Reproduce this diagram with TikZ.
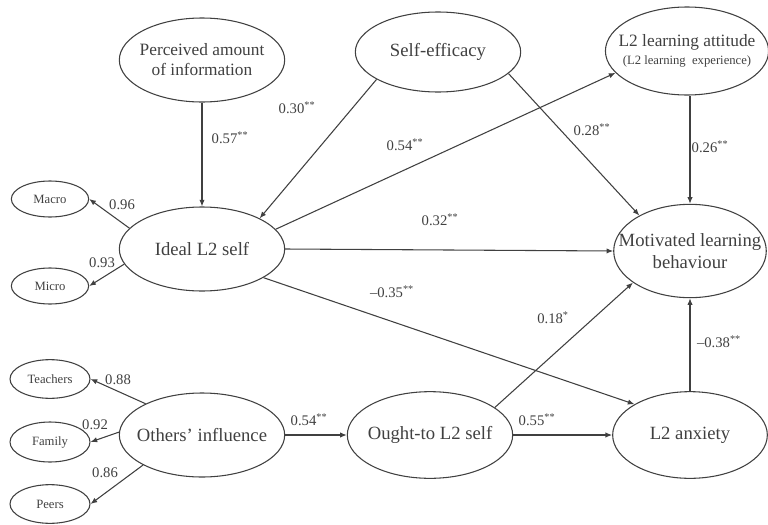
\documentclass[tikz,border=0pt]{standalone}
\usepackage{fontspec}
\setmainfont{Liberation Serif}
\usetikzlibrary{shapes.geometric,arrows.meta}
\definecolor{ink}{gray}{0.25}
\tikzset{
  latent/.style={ellipse, draw=ink, line width=0.8pt, text=ink, inner sep=0pt, inner xsep=-8pt,
    minimum width=124pt, minimum height=63pt, align=center, font=\fontsize{14}{16}\selectfont},
  item/.style={ellipse, draw=ink, line width=0.8pt, text=ink, inner sep=0pt,
    minimum width=58pt, minimum height=27pt, font=\fontsize{9.5}{11}\selectfont},
  path/.style={draw=ink, line width=0.8pt, -{Latex[length=5pt,width=4pt]}},
  coef/.style={text=ink, inner sep=0pt, font=\fontsize{11}{12}\selectfont}
}
\newcommand{\sig}[1]{\textsuperscript{#1}}
\begin{document}
\begin{tikzpicture}[x=0.75pt, y=-0.75pt]
                \useasboundingbox (0,0) rectangle (768,525);

                % Latent variables
                \node[latent, font=\fontsize{13}{15}\selectfont] (info) at (202,60) {Perceived amount\\of information};
                \node[latent, minimum height=60pt] (eff) at (438,52) {Self-efficacy};
                \node[latent, minimum width=121pt, minimum height=66pt, font=\fontsize{13}{14}\selectfont] (att) at (687,51)
                    {L2 learning attitude\\[-1pt]{\fontsize{9.5}{10}\selectfont(L2 learning\ \ experience)}};
                \node[latent] (ideal) at (202,249) {Ideal L2 self};
                \node[latent, inner xsep=-13pt, minimum width=110pt, minimum height=70pt] (mlb) at (690,251) {Motivated learning\\behaviour};
                \node[latent] (others) at (202,435) {Others' influence};
                \node[latent, minimum height=65pt] (ought) at (430,435) {Ought-to L2 self};
                \node[latent, minimum width=116pt, minimum height=65pt] (anx) at (690,435) {L2 anxiety};

                % Indicators
                \node[item] (macro) at (50,199) {Macro};
                \node[item] (micro) at (50,286) {Micro};
                \node[item, minimum width=60pt, minimum height=29pt] (teach) at (50,379) {Teachers};
                \node[item, minimum width=60pt, minimum height=30pt] (fam) at (50,442) {Family};
                \node[item, minimum width=60pt, minimum height=29pt] (peers) at (50,504) {Peers};

                % Structural paths
                \draw[path] (info.south) -- (ideal.north);
                \draw[path] (eff.204) -- (ideal.28);
                \draw[path] (ideal.15) -- (att.197);
                \draw[path] (eff.343) -- (mlb.145);
                \draw[path] (mlb.north |- att.south) -- (mlb.north);
                \draw[path] (ideal.east) -- (mlb.west);
                \draw[path] (ideal.335) -- (anx.151);
                \draw[path] (ought.23) -- (mlb.209);
                \draw[path] (ought.east) -- (anx.west);
                \draw[path] (anx.north) -- (mlb.south);
                \draw[path] (others.east) -- (ought.west);

                % Loadings
                \draw[path] (ideal.164) -- (macro.east);
                \draw[path] (ideal.191) -- (micro.east);
                \draw[path] (others.151) -- (teach.east);
                \draw[path] (others.178) -- (fam.east);
                \draw[path] (others.207) -- (peers.east);

                % Coefficients
                \node[coef] (c-info) at (230,138) {0.57\sig{**}};
                \node[coef] (c-eff-ideal) at (297,108) {0.30\sig{**}};
                \node[coef] (c-ideal-att) at (405,145) {0.54\sig{**}};
                \node[coef] (c-eff-mlb) at (592,130) {0.28\sig{**}};
                \node[coef] (c-att-mlb) at (710,147) {0.26\sig{**}};
                \node[coef] (c-ideal-mlb) at (440,220) {0.32\sig{**}};
                \node[coef] (c-ideal-anx) at (392,292) {--0.35\sig{**}};
                \node[coef] (c-ought-mlb) at (553,318) {0.18\sig{*}};
                \node[coef] (c-ought-anx) at (537,420) {0.55\sig{**}};
                \node[coef] (c-anx-mlb) at (719,342) {--0.38\sig{**}};
                \node[coef] (c-others) at (309,420) {0.54\sig{**}};
                \node[coef] (c-macro) at (122,205) {0.96};
                \node[coef] (c-micro) at (102,263) {0.93};
                \node[coef] (c-teach) at (118,380) {0.88};
                \node[coef] (c-fam) at (95,425) {0.92};
                \node[coef] (c-peers) at (105,473) {0.86};
            \end{tikzpicture}
\end{document}
